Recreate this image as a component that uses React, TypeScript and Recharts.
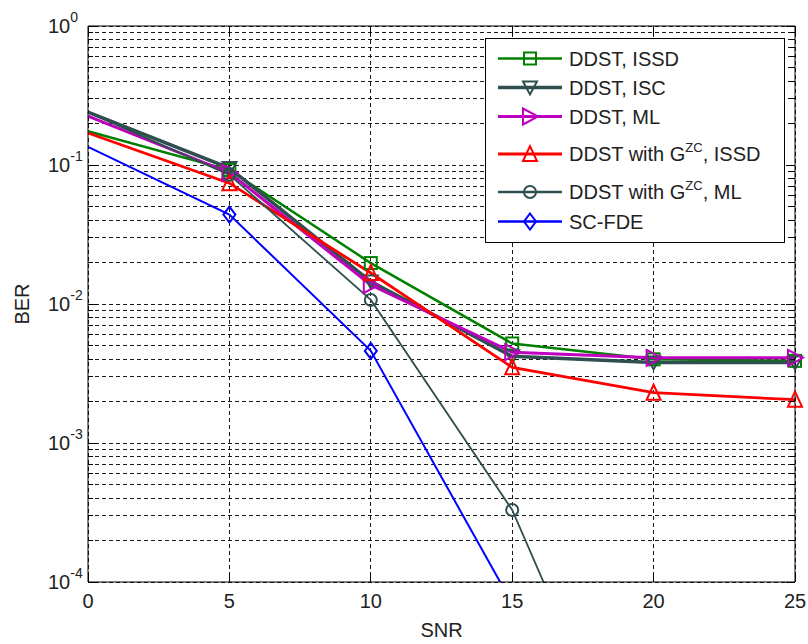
import React from 'react';
import { LineChart, Line, XAxis, YAxis, CartesianGrid, Label } from 'recharts';

// SNR points (dB)
const snr = [0, 5, 10, 15, 20, 25];

// BER per scheme (null = below plotted range, not simulated)
const berDdstIssd = [0.175, 0.092, 0.0197, 0.0052, 0.004, 0.0039];
const berDdstIsc = [0.24, 0.095, 0.0145, 0.0042, 0.0038, 0.0038];
const berDdstMl = [0.225, 0.088, 0.0137, 0.0045, 0.0041, 0.0041];
const berZcIssd = [0.17, 0.074, 0.0167, 0.0035, 0.0023, 0.00205];
const berZcMl = [0.24, 0.085, 0.0107, 0.00033, 0.0000015, null];
const berScFde = [0.135, 0.044, 0.0046, 0.00007, null, null];

const xTicks = [0, 5, 10, 15, 20, 25];
const decadeExps = [-4, -3, -2, -1, 0];
const minorMults = [2, 3, 4, 5, 6, 7, 8, 9];

const yTicks: number[] = [];
decadeExps.forEach((e) => {
    yTicks.push(Math.pow(10, e));
    if (e < 0) minorMults.forEach((m) => yTicks.push(m * Math.pow(10, e)));
});

const data = snr.map((s, i) => ({
    snr: s,
    ddstIssd: berDdstIssd[i],
    ddstIsc: berDdstIsc[i],
    ddstMl: berDdstMl[i],
    zcIssd: berZcIssd[i],
    zcMl: berZcMl[i],
    scFde: berScFde[i],
}));

type Shape = 'square' | 'triDown' | 'triRight' | 'triUp' | 'circle' | 'diamond';

const supStyle: React.CSSProperties = { fontSize: 13, position: 'relative', top: -9 };

const series: { key: string; color: string; width: number; shape: Shape; label: React.ReactNode; sup?: boolean }[] = [
    { key: 'ddstIssd', color: '#008000', width: 2.5, shape: 'square', label: 'DDST, ISSD' },
    { key: 'ddstIsc', color: '#2f4f4f', width: 3.5, shape: 'triDown', label: 'DDST, ISC' },
    { key: 'ddstMl', color: '#bf00bf', width: 3, shape: 'triRight', label: 'DDST, ML' },
    {
        key: 'zcIssd', color: '#ff0000', width: 2.8, shape: 'triUp', sup: true,
        label: <>DDST with G<span style={supStyle}>ZC</span>, ISSD</>,
    },
    {
        key: 'zcMl', color: '#2f4f4f', width: 1.8, shape: 'circle', sup: true,
        label: <>DDST with G<span style={supStyle}>ZC</span>, ML</>,
    },
    { key: 'scFde', color: '#0000ff', width: 2, shape: 'diamond', label: 'SC-FDE' },
];

const FONT = '"Liberation Sans", Arial, sans-serif';
const TEXT = '#222';

function Marker({ shape, cx, cy, color }: { shape: Shape; cx: number; cy: number; color: string }) {
    const common = { fill: 'none', stroke: color, strokeWidth: 2 };
    switch (shape) {
        case 'square':
            return <rect x={cx - 6} y={cy - 6} width={12} height={12} {...common} />;
        case 'triDown':
            return <polygon points={`${cx - 7},${cy - 6} ${cx + 7},${cy - 6} ${cx},${cy + 7}`} {...common} />;
        case 'triRight':
            return <polygon points={`${cx - 7},${cy - 8} ${cx - 7},${cy + 8} ${cx + 8},${cy}`} {...common} />;
        case 'triUp':
            return <polygon points={`${cx - 7},${cy + 7} ${cx + 7},${cy + 7} ${cx},${cy - 8}`} {...common} />;
        case 'circle':
            return <circle cx={cx} cy={cy} r={6} {...common} />;
        default:
            return <polygon points={`${cx},${cy - 8} ${cx + 6},${cy} ${cx},${cy + 8} ${cx - 6},${cy}`} {...common} />;
    }
}

const isDecade = (v: number) => decadeExps.some((e) => Math.abs(Math.log10(v) - e) < 1e-9);

function LeftTick(props: any) {
    const { x, y, payload } = props;
    const v = payload.value;
    const major = isDecade(v);
    const exp = Math.round(Math.log10(v));
    return (
        <g>
            <line x1={x} x2={x + (major ? 9 : 5)} y1={y} y2={y} stroke="#000" shapeRendering="crispEdges" />
            {major && (
                <text x={x - 40} y={y + 7} fontSize={20} fill={TEXT} fontFamily={FONT}>
                    10<tspan dy={-11} fontSize={14}>{exp}</tspan>
                </text>
            )}
        </g>
    );
}

function RightTick(props: any) {
    const { x, y, payload } = props;
    const major = isDecade(payload.value);
    return <line x1={x} x2={x - (major ? 9 : 5)} y1={y} y2={y} stroke="#000" shapeRendering="crispEdges" />;
}

function BottomTick(props: any) {
    const { x, y, payload } = props;
    return (
        <g>
            <line x1={x} x2={x} y1={y} y2={y - 9} stroke="#000" shapeRendering="crispEdges" />
            <text x={x} y={y + 26} textAnchor="middle" fontSize={20} fill={TEXT} fontFamily={FONT}>
                {payload.value}
            </text>
        </g>
    );
}

function TopTick(props: any) {
    const { x, y } = props;
    return <line x1={x} x2={x} y1={y} y2={y + 9} stroke="#000" shapeRendering="crispEdges" />;
}

function BerTitle(props: any) {
    const vb = props.viewBox || { x: 0, y: 0, width: 0, height: 0 };
    const cx = vb.x + 22;
    const cy = vb.y + vb.height / 2;
    return (
        <text x={cx} y={cy} transform={`rotate(-90 ${cx} ${cy})`} textAnchor="middle" dominantBaseline="central"
            fontSize={20} fill={TEXT} fontFamily={FONT}>
            BER
        </text>
    );
}

function SnrTitle(props: any) {
    const vb = props.viewBox || { x: 0, y: 0, width: 0, height: 0 };
    return (
        <text x={vb.x + vb.width / 2} y={vb.y + vb.height - 7} textAnchor="middle" fontSize={20} fill={TEXT}
            fontFamily={FONT}>
            SNR
        </text>
    );
}

function LegendBox() {
    return (
        <div style={{
            position: 'absolute', left: 485, top: 38, width: 298, height: 198, border: '1px solid #000',
            background: '#fff', paddingTop: 5, boxSizing: 'content-box', fontFamily: FONT, fontSize: 20, color: TEXT,
        }}>
            {series.map((s) => {
                const h = s.sup ? 38 : 29;
                const c = s.sup ? 23 : 14.5;
                return (
                    <div key={s.key} style={{ position: 'relative', height: h }}>
                        <svg width={80} height={h} style={{ position: 'absolute', left: 0, top: 0 }}>
                            <line x1={12} x2={76} y1={c} y2={c} stroke={s.color} strokeWidth={Math.max(s.width, 2.5)} />
                            <Marker shape={s.shape} cx={44} cy={c} color={s.color} />
                        </svg>
                        <span style={{ position: 'absolute', left: 83, top: c - 12, lineHeight: '24px', whiteSpace: 'nowrap' }}>
                            {s.label}
                        </span>
                    </div>
                );
            })}
        </div>
    );
}

export default function App() {
    return (
        <div style={{ position: 'absolute', left: 0, top: 0, width: 808, height: 644, background: '#fff' }}>
            <LineChart width={808} height={644} data={data} margin={{ top: 0, right: 0, bottom: 0, left: 0 }}>
                <CartesianGrid stroke="#1a1a1a" strokeDasharray="4 3" shapeRendering="crispEdges" />
                <XAxis dataKey="snr" type="number" domain={[0, 25]} ticks={xTicks} interval={0} height={62}
                    tickSize={0} tickMargin={0} tick={<BottomTick />} axisLine={{ stroke: '#000' }} tickLine={false}>
                    <Label content={<SnrTitle />} />
                </XAxis>
                <XAxis xAxisId="top" orientation="top" dataKey="snr" type="number" domain={[0, 25]} ticks={xTicks}
                    interval={0} height={26} tickSize={0} tickMargin={0} tick={<TopTick />}
                    axisLine={{ stroke: '#000' }} tickLine={false} />
                <YAxis scale="log" domain={[1e-4, 1]} allowDataOverflow ticks={yTicks} interval={0} width={88}
                    tickSize={0} tickMargin={0} tick={<LeftTick />} axisLine={{ stroke: '#000' }} tickLine={false}>
                    <Label content={<BerTitle />} />
                </YAxis>
                <YAxis yAxisId="right" orientation="right" scale="log" domain={[1e-4, 1]} allowDataOverflow
                    ticks={yTicks} interval={0} width={13} tickSize={0} tickMargin={0} tick={<RightTick />}
                    axisLine={{ stroke: '#000' }} tickLine={false} />
                {series.map((s) => (
                    <Line
                        key={s.key}
                        type="linear"
                        dataKey={s.key}
                        stroke={s.color}
                        strokeWidth={s.width}
                        isAnimationActive={false}
                        activeDot={false}
                        dot={(p: any) => {
                            const k = `${s.key}-${p.index}`;
                            // no marker at the first SNR point, as in the original figure
                            if (p.cx == null || p.cy == null || p.value == null || p.payload?.snr === snr[0]) return <g key={k} />;
                            return (
                                <g key={k}>
                                    <Marker shape={s.shape} cx={p.cx} cy={p.cy} color={s.color} />
                                </g>
                            );
                        }}
                    />
                ))}
            </LineChart>
            <LegendBox />
        </div>
    );
}
